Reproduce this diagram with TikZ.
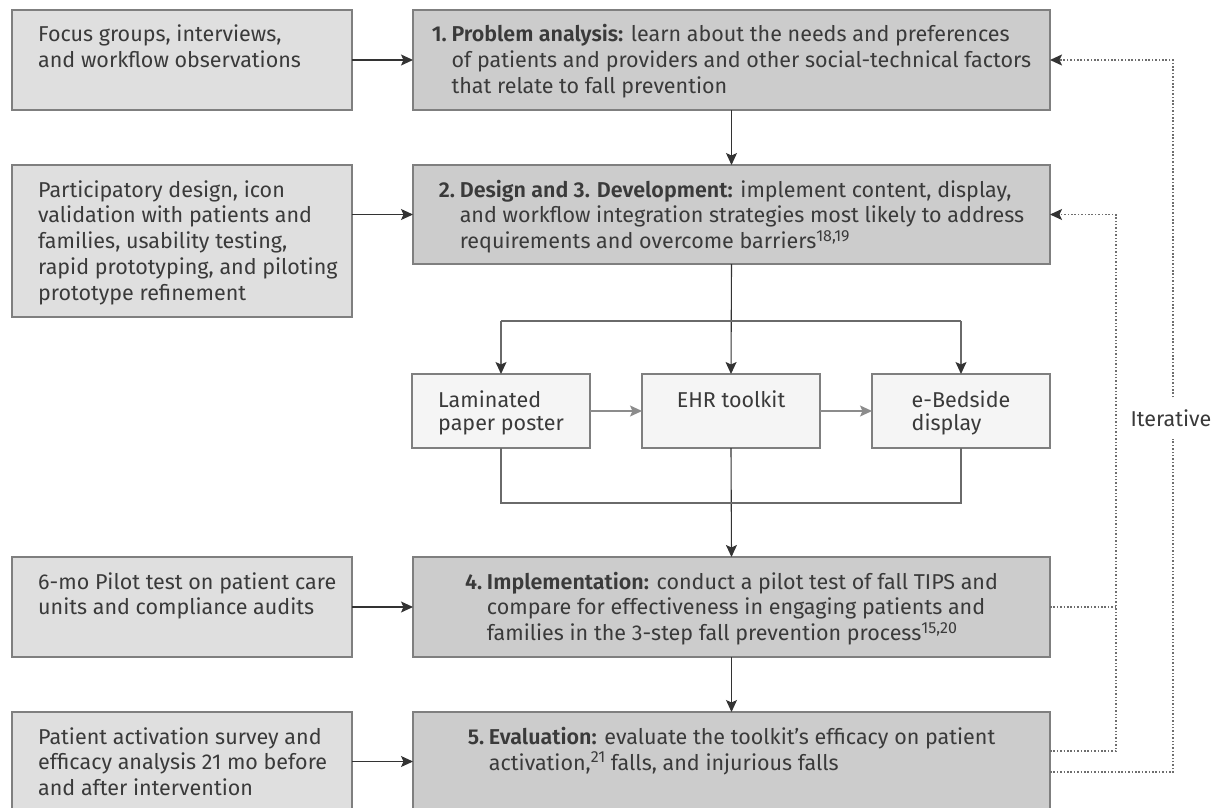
\documentclass[tikz,border=0pt]{standalone}
\usepackage{fontspec}
\setmainfont{Fira Sans}[BoldFont={Fira Sans SemiBold}]
\usetikzlibrary{arrows.meta}
\definecolor{txtc}{HTML}{3A3A3A}
\definecolor{darkc}{HTML}{333333}
\definecolor{linec}{HTML}{6A6A6A}
\definecolor{grayarr}{HTML}{8C8C8C}
\definecolor{borderc}{HTML}{7F7F7F}
\definecolor{leftfill}{HTML}{DFDFDF}
\definecolor{mainfill}{HTML}{CCCCCC}
\definecolor{midfill}{HTML}{F5F5F5}
\definecolor{dotc}{HTML}{6E6E6E}
\tikzset{
  box/.style={draw=borderc, line width=1.3pt, rectangle, inner sep=0pt, outer sep=0pt},
  leftbox/.style={box, fill=leftfill, minimum width=340pt},
  mainbox/.style={box, fill=mainfill, minimum width=637pt},
  midbox/.style={box, fill=midfill, minimum width=178pt, minimum height=74pt},
  lbl/.style={text=txtc, inner sep=0pt, font=\fontsize{21.5}{25.8}\selectfont},
  mlbl/.style={text=txtc, inner sep=0pt, font=\fontsize{21.5}{23}\selectfont},
  tip/.style={-{Stealth[length=12pt,width=11pt,inset=2.5pt]}},
  arr/.style={draw=darkc, line width=1.1pt, tip},
  brl/.style={draw=linec, line width=1.2pt},
  brarr/.style={draw=linec, line width=1.2pt, -{Stealth[length=12pt,width=11pt,inset=2.5pt,color=darkc]}},
  garr/.style={draw=grayarr, line width=1.2pt, tip},
  dotl/.style={draw=dotc, line width=1.6pt, dash pattern=on 1.5pt off 1.9pt},
  dotarr/.style={dotl, -{Stealth[length=12pt,width=11pt,inset=2.5pt,color=darkc]}}
}
\newcommand{\steptxt}[2]{\begin{tabular}[t]{@{}l@{\hspace{0.22em}}l@{}}\textbf{#1}&#2\end{tabular}}
\newcommand{\refsup}[1]{\raisebox{7.5pt}{\fontsize{16}{16}\selectfont #1}}
\begin{document}
\begin{tikzpicture}[x=1pt,y=-1pt]
\useasboundingbox (0,0) rectangle (1213,808);
\clip (0,0) rectangle (1213,808);
\fill[white] (0,0) rectangle (1213,808);
% left boxes
\node[leftbox, minimum height=100pt] (l1) at (182,60) {};
\node[leftbox, minimum height=152pt] (l2) at (182,241) {};
\node[leftbox, minimum height=100pt] (l4) at (182,607) {};
\node[leftbox, minimum height=100pt] (l5) at (182,762) {};
% main boxes
\node[mainbox, minimum height=100pt] (m1) at (731.5,60) {};
\node[mainbox, minimum height=99pt] (m2) at (731.5,214.5) {};
\node[mainbox, minimum height=100pt] (m4) at (731.5,607) {};
\node[mainbox, minimum height=99pt] (m5) at (731.5,761.5) {};
% middle boxes
\node[midbox] (p1) at (501,411) {};
\node[midbox] (p2) at (731,411) {};
\node[midbox] (p3) at (961,411) {};
% left texts
\node[lbl, anchor=base west] (tl1) at (38,42) {\begin{tabular}[t]{@{}l@{}}Focus groups, interviews,\\and workflow observations\end{tabular}};
\node[lbl, anchor=base west] (tl2) at (38,197) {\begin{tabular}[t]{@{}l@{}}Participatory design, icon\\validation with patients and\\families, usability testing,\\rapid prototyping, and piloting\\prototype refinement\end{tabular}};
\node[lbl, anchor=base west] (tl4) at (38,589) {\begin{tabular}[t]{@{}l@{}}6-mo Pilot test on patient care\\units and compliance audits\end{tabular}};
\node[lbl, anchor=base west] (tl5) at (38,744) {\begin{tabular}[t]{@{}l@{}}Patient activation survey and\\efficacy analysis 21 mo before\\and after intervention\end{tabular}};
% main texts
\node[lbl, anchor=base] (tm1) at (731.5,42) {\steptxt{1.}{\textbf{Problem analysis:} learn about the needs and preferences\\&of patients and providers and other social-technical factors\\&that relate to fall prevention}};
\node[lbl, anchor=base] (tm2) at (731.5,197) {\steptxt{2.}{\textbf{Design and 3. Development:} implement content, display,\\&and workflow integration strategies most likely to address\\&requirements and overcome barriers\refsup{18,19}}};
\node[lbl, anchor=base] (tm4) at (731.5,589) {\steptxt{4.}{\textbf{Implementation:} conduct a pilot test of fall TIPS and\\&compare for effectiveness in engaging patients and\\&families in the 3-step fall prevention process\refsup{15,20}}};
\node[lbl, anchor=base] (tm5) at (731.5,744) {\steptxt{5.}{\textbf{Evaluation:} evaluate the toolkit’s efficacy on patient\\&activation,\refsup{21} falls, and injurious falls}};
% middle texts
\node[mlbl, anchor=base] (tp1) at (501,407) {\begin{tabular}[t]{@{}l@{}}Laminated\\paper poster\end{tabular}};
\node[mlbl, anchor=base] (tp2) at (731,407) {EHR toolkit};
\node[mlbl, anchor=base] (tp3) at (961,407) {\begin{tabular}[t]{@{}l@{}}e-Bedside\\display\end{tabular}};
% iterative label
\node[lbl, minimum height=41pt] (it) at (1171,418) {Iterative};
% left to main arrows
\draw[arr] (l1.east |- m1.west) -- (m1.west);
\draw[arr] (l2.east |- m2.west) -- (m2.west);
\draw[arr] (l4.east |- m4.west) -- (m4.west);
\draw[arr] (l5.east |- m5.west) -- (m5.west);
% main vertical arrows
\draw[arr] (m1.south) -- (m2.north);
\draw[arr] (m2.south) -- (p2.north);
\draw[arr] (p2.south) -- (m4.north);
\draw[arr] (m4.south) -- (m5.north);
% branch
\coordinate (sp) at (731,321);
\coordinate (mg) at (731,503);
\draw[brl] (p1.north |- sp) -- (p3.north |- sp);
\draw[brarr] (p1.north |- sp) -- (p1.north);
\draw[brarr] (p3.north |- sp) -- (p3.north);
\draw[brl] (p1.south) -- (p1.south |- mg) -- (p3.south |- mg) -- (p3.south);
% middle horizontal
\draw[garr] (p1.east) -- (p2.west);
\draw[garr] (p2.east) -- (p3.west);
% dotted feedback
\coordinate (ix) at (1116,0);
\coordinate (ox) at (1173,0);
\coordinate (i5) at (1116,751);
\coordinate (o5) at (1173,772);
\draw[dotl] (m4.east) -- (ix |- m4.east);
\draw[dotarr] (m5.east |- i5) -- (i5) -- (ix |- m2.east) -- (m2.east);
\draw[dotl] (m5.east |- o5) -- (o5) -- (ox |- it.south);
\draw[dotarr] (ox |- it.north) -- (ox |- m1.east) -- (m1.east);
\end{tikzpicture}
\end{document}
